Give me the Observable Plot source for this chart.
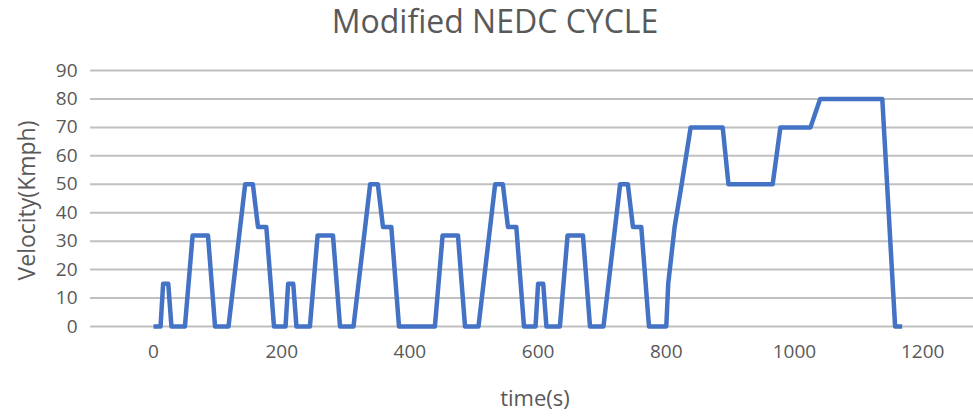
<!DOCTYPE html>
<html>
<head>
<meta charset="utf-8">
<script src="https://cdn.jsdelivr.net/npm/d3@7"></script>
<script src="https://cdn.jsdelivr.net/npm/@observablehq/plot@0.6"></script>
<style>
  html, body { margin: 0; padding: 0; background: #fff; }
  #chart svg { display: block; }
</style>
</head>
<body>
<div id="chart"></div>
<script>
// Breakpoints of the speed trace
const timeS = [
  0, 11, 15, 23, 28, 49, 61, 85, 96, 117, 143, 155, 163, 176, 188,
  206, 210, 218, 223, 244, 256, 280, 291, 312, 338, 350, 358, 371, 383,
  439, 451, 475, 486, 507, 533, 545, 553, 566, 578,
  596, 600, 608, 613, 634, 646, 670, 681, 702, 728, 740, 748, 761, 773,
  800, 803, 813, 824, 838, 888, 897, 966, 978, 1025, 1040, 1137, 1157, 1168
];
const velocity = [
  0, 0, 15, 15, 0, 0, 32, 32, 0, 0, 50, 50, 35, 35, 0,
  0, 15, 15, 0, 0, 32, 32, 0, 0, 50, 50, 35, 35, 0,
  0, 32, 32, 0, 0, 50, 50, 35, 35, 0,
  0, 15, 15, 0, 0, 32, 32, 0, 0, 50, 50, 35, 35, 0,
  0, 15, 35, 50, 70, 70, 50, 50, 70, 70, 80, 80, 0, 0
];
const xTicks = [0, 200, 400, 600, 800, 1000, 1200];
const yTicks = [0, 10, 20, 30, 40, 50, 60, 70, 80, 90];
const titleText = "Modified NEDC CYCLE";
const xLabel = "time(s)";
const yLabel = "Velocity(Kmph)";

const data = timeS.map((t, i) => ({t, v: velocity[i]}));
const grey = "#595959";
const font = "Open Sans, sans-serif";

const chart = Plot.plot({
  width: 973,
  height: 417,
  marginLeft: 90,
  marginRight: 0,
  marginTop: 70,
  marginBottom: 91,
  style: {fontFamily: font, fontSize: "19px", color: grey, background: "#fff"},
  x: {domain: [-98.3, 1279.3]},
  y: {domain: [0, 90]},
  marks: [
    Plot.gridY(yTicks, {stroke: "#c0c0c0", strokeOpacity: 1, strokeWidth: 2}),
    Plot.axisY(yTicks, {tickSize: 0, tickPadding: 13, label: null, fill: grey, fontSize: 19, tickFormat: d => String(d)}),
    Plot.axisX(xTicks, {tickSize: 0, tickPadding: 18, label: null, fill: grey, fontSize: 19, tickFormat: d => String(d)}),
    Plot.line(data, {x: "t", y: "v", stroke: "#4472C4", strokeWidth: 4.5, strokeLinejoin: "round", strokeLinecap: "butt"}),
    Plot.text([titleText], {text: d => d, frameAnchor: "top", lineAnchor: "middle", textAnchor: "middle", dx: -37, dy: -48, fontSize: 32, fill: grey}),
    Plot.text([xLabel], {text: d => d, frameAnchor: "bottom", lineAnchor: "middle", textAnchor: "middle", dx: 3, dy: 72, fontSize: 22, fill: grey}),
    Plot.text([yLabel], {text: d => d, frameAnchor: "left", lineAnchor: "middle", textAnchor: "middle", dx: -63, dy: 2, rotate: -90, fontSize: 23, fill: grey})
  ]
});
document.getElementById("chart").append(chart);
</script>
</body>
</html>
